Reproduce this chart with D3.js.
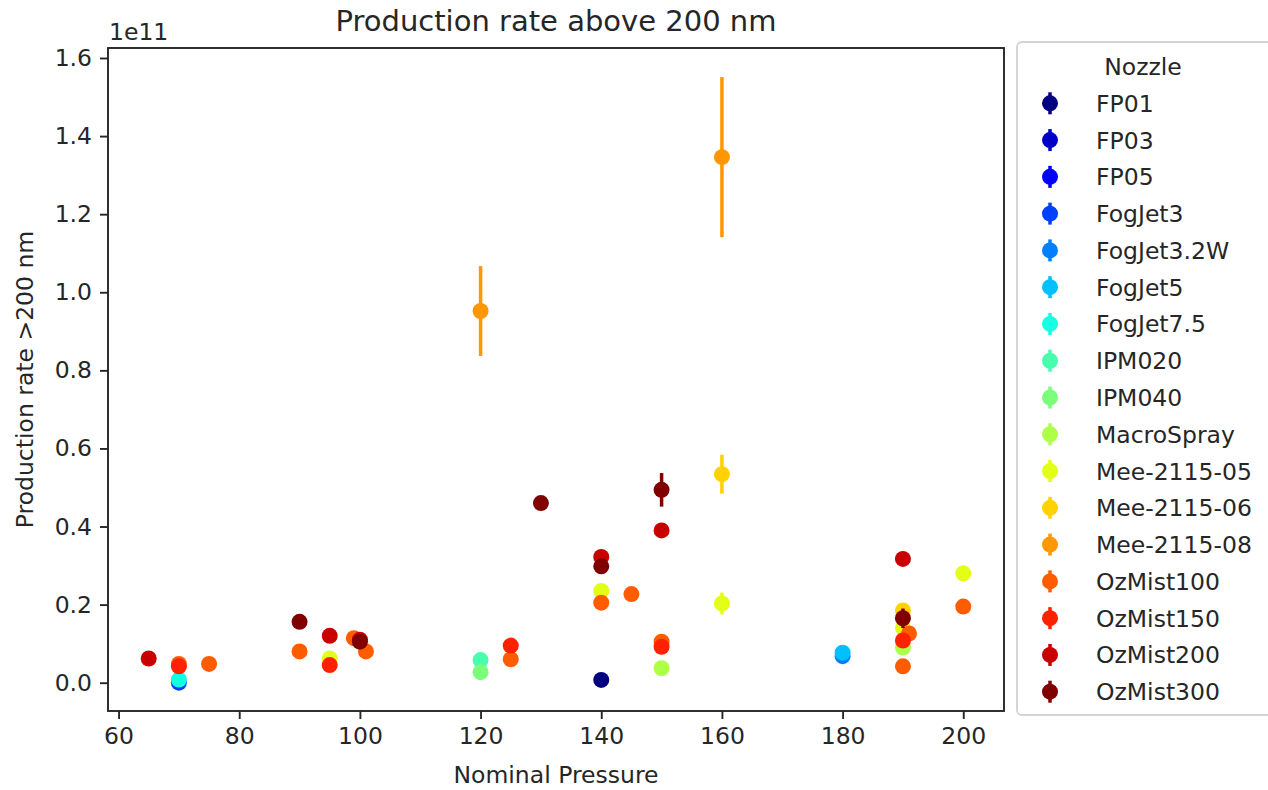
<!DOCTYPE html>
<html>
<head>
<meta charset="utf-8">
<script src="https://cdn.jsdelivr.net/npm/d3@7"></script>
<style>
html,body{margin:0;padding:0;background:#fff;}
svg{display:block;font-family:"DejaVu Sans",sans-serif;}
</style>
</head>
<body>
<svg id="chart" width="1268" height="790"></svg>
<script>
// ---- data ----
const nozzles = ["FP01","FP03","FP05","FogJet3","FogJet3.2W","FogJet5","FogJet7.5","IPM020","IPM040","MacroSpray","Mee-2115-05","Mee-2115-06","Mee-2115-08","OzMist100","OzMist150","OzMist200","OzMist300"];
const nozzleColors = ["#000080","#0000c8","#0000ff","#0040ff","#0080ff","#00c0ff","#15ffe2","#48ffae","#7bff7b","#aeff48","#e2ff15","#ffd200","#ff9700","#ff5c00","#ff2100","#c80000","#800000"];
// points (rate in units of 1e11)
const pointNozzle = [
  "FP01",
  "FogJet3",
  "FogJet3.2W",
  "FogJet5",
  "FogJet7.5",
  "IPM020",
  "IPM040",
  "MacroSpray","MacroSpray",
  "Mee-2115-05","Mee-2115-05","Mee-2115-05","Mee-2115-05","Mee-2115-05",
  "Mee-2115-06","Mee-2115-06",
  "Mee-2115-08","Mee-2115-08",
  "OzMist100","OzMist100","OzMist100","OzMist100","OzMist100","OzMist100","OzMist100","OzMist100","OzMist100","OzMist100","OzMist100","OzMist100",
  "OzMist150","OzMist150","OzMist150","OzMist150","OzMist150",
  "OzMist200","OzMist200","OzMist200","OzMist200","OzMist200","OzMist200",
  "OzMist300","OzMist300","OzMist300","OzMist300","OzMist300","OzMist300"
];
const pointPressure = [
  140,
  70,
  180,
  180,
  70,
  120,
  120,
  150,190,
  95,140,160,190,200,
  160,190,
  120,160,
  70,75,90,99,101,125,140,145,150,190,191,200,
  70,95,125,150,190,
  65,95,100,140,150,190,
  90,100,130,140,150,190
];
const pointRate = [
  0.007,
  0.0,
  0.068,
  0.077,
  0.008,
  0.058,
  0.027,
  0.037,0.090,
  0.062,0.235,0.203,0.140,0.280,
  0.534,0.185,
  0.952,1.346,
  0.048,0.048,0.080,0.114,0.080,0.060,0.205,0.227,0.105,0.042,0.126,0.195,
  0.042,0.045,0.095,0.092,0.108,
  0.062,0.120,0.110,0.322,0.390,0.317,
  0.156,0.105,0.460,0.298,0.494,0.165
];
const pointErr = [
  0,
  0,
  0,
  0,
  0,
  0,
  0,
  0,0,
  0,0,0.028,0,0,
  0.050,0,
  0.115,0.205,
  0,0,0,0,0,0,0,0,0,0,0,0,
  0,0,0,0,0,
  0,0,0,0,0,0,
  0,0,0,0,0.043,0.025
];
const xTicks = [60,80,100,120,140,160,180,200];
const yTicks = [0.0,0.2,0.4,0.6,0.8,1.0,1.2,1.4,1.6];

// ---- layout ----
const svg = d3.select("#chart");
svg.append("rect").attr("width",1268).attr("height",790).attr("fill","#fff");
const L = 108, R = 1004, T = 48, B = 711;
const x = d3.scaleLinear().domain([58.25,206.75]).range([L,R]);
const y = d3.scaleLinear().domain([-0.0725,1.6256]).range([B,T]);
const color = d3.scaleOrdinal().domain(nozzles).range(nozzleColors);
const textColor = "#262626";
const fs = 23.5;
const mr = 8;

const points = pointNozzle.map((n,i)=>({n, idx:nozzles.indexOf(n), x:pointPressure[i], y:pointRate[i], e:pointErr[i]}))
  .sort((a,b)=>a.idx-b.idx);

// series drawn in order: error bars then markers per series
const g = svg.append("g");
nozzles.forEach(n=>{
  const pts = points.filter(p=>p.n===n);
  const sg = g.append("g");
  sg.selectAll("line").data(pts.filter(p=>p.e>0)).join("line")
    .attr("x1",d=>x(d.x)).attr("x2",d=>x(d.x))
    .attr("y1",d=>y(d.y-d.e)).attr("y2",d=>y(d.y+d.e))
    .attr("stroke",color(n)).attr("stroke-width",3.5);
  sg.selectAll("circle").data(pts).join("circle")
    .attr("cx",d=>x(d.x)).attr("cy",d=>y(d.y)).attr("r",mr)
    .attr("fill",color(n));
});

// axes
const xAxis = d3.axisBottom(x).tickValues(xTicks).tickFormat(d3.format("d")).tickSize(8).tickPadding(8);
const yAxis = d3.axisLeft(y).tickValues(yTicks).tickFormat(d3.format(".1f")).tickSize(8).tickPadding(8);
const gx = svg.append("g").attr("transform",`translate(0,${B})`).call(xAxis);
const gy = svg.append("g").attr("transform",`translate(${L},0)`).call(yAxis);
[gx,gy].forEach(a=>{
  a.select(".domain").remove();
  a.selectAll(".tick line").attr("stroke",textColor).attr("stroke-width",1.9);
  a.selectAll(".tick text").attr("fill",textColor).style("font-size",fs+"px").style("font-family","DejaVu Sans");
});
// frame
svg.append("rect").attr("x",L).attr("y",T).attr("width",R-L).attr("height",B-T)
  .attr("fill","none").attr("stroke",textColor).attr("stroke-width",1.9);

// texts
svg.append("text").attr("x",(L+R)/2).attr("y",31).attr("text-anchor","middle")
  .attr("fill",textColor).style("font-size","29px").text("Production rate above 200 nm");
svg.append("text").attr("x",109).attr("y",40).attr("text-anchor","start")
  .attr("fill",textColor).style("font-size",fs+"px").text("1e11");
svg.append("text").attr("x",(L+R)/2).attr("y",783).attr("text-anchor","middle")
  .attr("fill",textColor).style("font-size",fs+"px").text("Nominal Pressure");
svg.append("text").attr("transform",`translate(33,${(T+B)/2}) rotate(-90)`).attr("text-anchor","middle")
  .attr("fill",textColor).style("font-size",fs+"px").text("Production rate >200 nm");

// legend
const lg = svg.append("g");
lg.append("rect").attr("x",1017).attr("y",42).attr("width",280).attr("height",673)
  .attr("rx",5).attr("fill","#fff").attr("stroke","#d4d4d4").attr("stroke-width",1.9);
lg.append("text").attr("x",1143).attr("y",75).attr("text-anchor","middle")
  .attr("fill",textColor).style("font-size",fs+"px").text("Nozzle");
const ly = d3.scaleLinear().domain([0,nozzles.length-1]).range([103.3,691.7]);
const items = lg.selectAll("g.item").data(nozzles).join("g").attr("class","item")
  .attr("transform",(d,i)=>`translate(0,${ly(i)})`);
items.append("line").attr("x1",1050).attr("x2",1050).attr("y1",-11).attr("y2",11)
  .attr("stroke",d=>color(d)).attr("stroke-width",3.5);
items.append("circle").attr("cx",1050).attr("cy",0).attr("r",mr).attr("fill",d=>color(d));
items.append("text").attr("x",1096).attr("y",8.5).attr("fill",textColor)
  .style("font-size",fs+"px").text(d=>d);
</script>
</body>
</html>
